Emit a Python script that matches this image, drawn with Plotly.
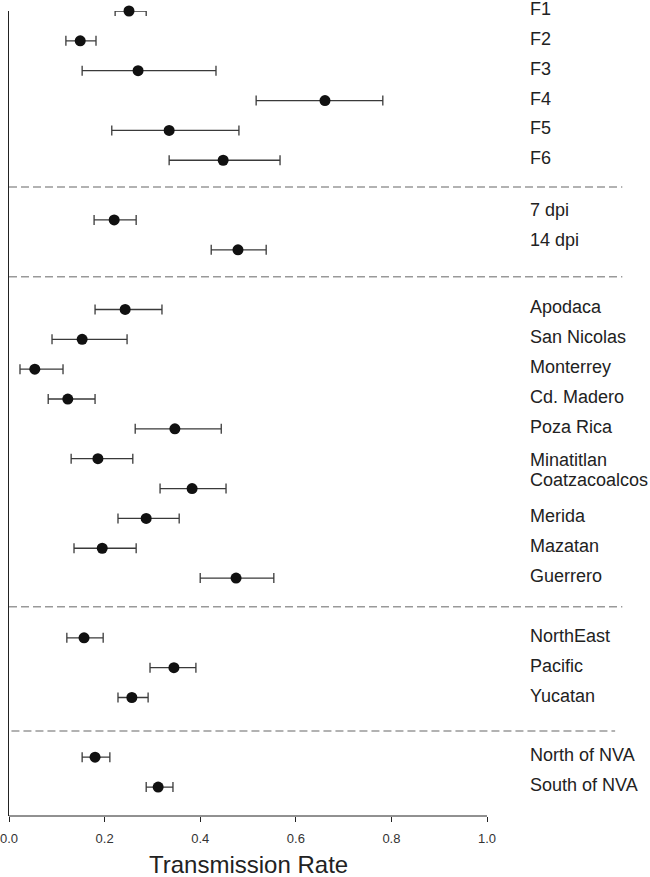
import plotly.graph_objects as go

# ---- data ----
group_labels = [
    ["F1", "F2", "F3", "F4", "F5", "F6"],
    ["7 dpi", "14 dpi"],
    ["Apodaca", "San Nicolas", "Monterrey", "Cd. Madero", "Poza Rica",
     "Minatitlan", "Coatzacoalcos", "Merida", "Mazatan", "Guerrero"],
    ["NorthEast", "Pacific", "Yucatan"],
    ["North of NVA", "South of NVA"],
]
rate = [0.251, 0.149, 0.270, 0.661, 0.335, 0.448,
        0.220, 0.479,
        0.243, 0.153, 0.054, 0.123, 0.347, 0.186, 0.383, 0.287, 0.195, 0.475,
        0.157, 0.345, 0.257,
        0.180, 0.312]
lower = [0.222, 0.119, 0.153, 0.517, 0.215, 0.335,
         0.178, 0.423,
         0.180, 0.090, 0.023, 0.082, 0.264, 0.130, 0.316, 0.228, 0.136, 0.400,
         0.121, 0.295, 0.228,
         0.153, 0.287]
upper = [0.287, 0.182, 0.433, 0.782, 0.481, 0.567,
         0.266, 0.538,
         0.320, 0.247, 0.113, 0.180, 0.444, 0.259, 0.454, 0.356, 0.266, 0.554,
         0.197, 0.391, 0.291,
         0.211, 0.343]
x_ticks = [0.0, 0.2, 0.4, 0.6, 0.8, 1.0]
x_tick_text = ["0.0", "0.2", "0.4", "0.6", "0.8", "1.0"]
x_title = "Transmission Rate"

# small label nudges (px, up positive) to mimic original label placement
label_shift = {"F1": 0, "7 dpi": 8, "14 dpi": 8, "Minatitlan": -3, "Coatzacoalcos": 7}
# divider offsets (rows) relative to the empty row between groups
divider_offset = [-0.1, -0.1, -0.04, 0.12]

# ---- row layout: one empty row between groups ----
labels, rows, gap_rows = [], [], []
r = 0
for gi, g in enumerate(group_labels):
    for lab in g:
        labels.append(lab)
        rows.append(r)
        r += 1
    if gi < len(group_labels) - 1:
        gap_rows.append(r)
        r += 1

err_plus = [u - v for u, v in zip(upper, rate)]
err_minus = [v - l for v, l in zip(rate, lower)]

FONT = "Liberation Sans, Arial, sans-serif"

fig = go.Figure()
fig.add_trace(go.Scatter(
    x=rate, y=rows, mode="markers",
    marker=dict(color="#111111", size=11),
    error_x=dict(type="data", symmetric=False, array=err_plus, arrayminus=err_minus,
                 color="#3a3a3a", thickness=1.3, width=5),
    cliponaxis=False, showlegend=False, hoverinfo="skip",
))

shapes = []
for i, g in enumerate(gap_rows):
    last = i == len(gap_rows) - 1
    d = g + divider_offset[i]
    shapes.append(dict(type="line", xref="x", yref="y",
                       x0=-0.02 if last else 0.0, x1=1.268 if last else 1.283,
                       y0=d, y1=d,
                       line=dict(color="#999999", width=1.5, dash="8px,4px")))
# x axis line only over 0..1
shapes.append(dict(type="line", xref="x", yref="paper", x0=0, x1=1, y0=0, y1=0,
                   line=dict(color="#222222", width=1)))

annotations = []
for lab, rr in zip(labels, rows):
    annotations.append(dict(x=1.086, y=rr, xref="x", yref="y", text=lab,
                            showarrow=False, xanchor="left", yanchor="middle",
                            yshift=2 + label_shift.get(lab, 0),
                            font=dict(family=FONT, size=18, color="#222222")))
annotations.append(dict(x=0.5, y=0, xref="x", yref="paper", text=x_title,
                        showarrow=False, xanchor="center", yanchor="middle",
                        yshift=-48, font=dict(family=FONT, size=24, color="#222222")))

fig.update_layout(
    width=650, height=877,
    margin=dict(l=9, r=10, t=11, b=61, autoexpand=False),
    paper_bgcolor="white", plot_bgcolor="white",
    shapes=shapes, annotations=annotations,
    font=dict(family=FONT),
    hovermode=False,
    xaxis=dict(range=[0, 1.32], tickvals=x_ticks, ticktext=x_tick_text,
               ticks="outside", ticklen=5, tickcolor="#222222",
               ticklabelstandoff=5, ticklabeloverflow="allow", automargin=False,
               showline=False, showgrid=False, zeroline=False,
               tickfont=dict(family=FONT, size=13, color="#333333")),
    yaxis=dict(range=[26.97, 0], showline=True, linecolor="#222222", linewidth=1,
               automargin=False,
               showticklabels=False, ticks="", showgrid=False, zeroline=False),
)

fig.write_html("out.html", config={"displayModeBar": False},
               post_script="document.body.style.margin='0';document.body.style.overflow='hidden';")
